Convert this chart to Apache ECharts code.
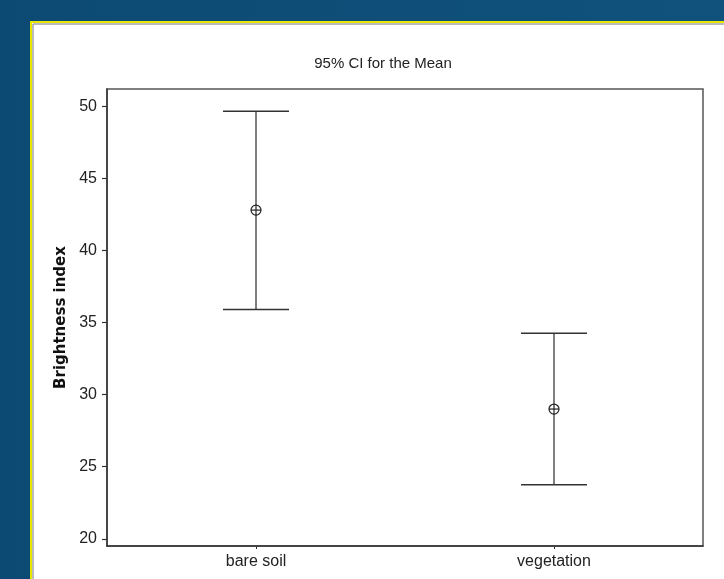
<!DOCTYPE html>
<html>
<head>
<meta charset="utf-8">
<script src="https://cdn.jsdelivr.net/npm/echarts@6/dist/echarts.min.js"></script>
<style>
html,body{margin:0;padding:0;background:#0e4f79;}
#c{width:724px;height:579px;}
</style>
</head>
<body>
<div id="c"></div>
<script>
var categories = ['bare soil', 'vegetation'];
var means = [42.8, 29.0];
var lowerCI = [35.9, 23.75];
var upperCI = [49.65, 34.25];
var yTicks = [20, 25, 30, 35, 40, 45, 50];

var chart = echarts.init(document.getElementById('c'));
var ciData = categories.map(function (c, i) { return [i, lowerCI[i], upperCI[i], means[i]]; });
var tickFont = 'Liberation Sans, Arial, sans-serif';

chart.setOption({
  backgroundColor: {
    type: 'linear', x: 0, y: 0, x2: 1, y2: 0,
    colorStops: [{offset: 0, color: '#0c4a73'}, {offset: 1, color: '#10527c'}]
  },
  animation: false,
  graphic: [
    {type: 'rect', z: -10, shape: {x: 31, y: 22, width: 720, height: 600},
     style: {fill: '#ffffff', stroke: '#e6e600', lineWidth: 2}},
    {type: 'polyline', z: -9, shape: {points: [[33, 600], [33, 24], [730, 24]]},
     style: {stroke: '#777', lineWidth: 1, fill: null}},
    {type: 'text', x: 383, y: 56, style: {text: '95% CI for the Mean', textAlign: 'center',
      font: '15px ' + tickFont, fill: '#222'}}
  ],
  grid: {left: 107, top: 89, right: 21, bottom: 33, show: true, borderColor: '#555', borderWidth: 1.5, backgroundColor: '#fff'},
  xAxis: {
    type: 'category', data: categories, boundaryGap: true,
    axisLine: {lineStyle: {color: '#333', width: 1.5}},
    axisTick: {show: true, alignWithLabel: true, length: 3, lineStyle: {color: '#333'}},
    axisLabel: {color: '#222', fontSize: 16, fontFamily: tickFont, margin: 8},
    splitLine: {show: false}
  },
  yAxis: {
    type: 'value', min: 19.5, max: 51.2,
    name: 'Brightness index', nameLocation: 'middle', nameGap: 38,
    nameTextStyle: {fontFamily: 'DejaVu Sans', fontWeight: 'bold', fontSize: 15, color: '#111'},
    axisLine: {show: true, lineStyle: {color: '#333', width: 1.5}},
    axisTick: {show: true, length: 5, customValues: yTicks, lineStyle: {color: '#333', width: 1.2}},
    axisLabel: {color: '#222', fontSize: 16, fontFamily: tickFont, margin: 10, customValues: yTicks},
    splitLine: {show: false}
  },
  series: [{
    type: 'custom',
    data: ciData,
    encode: {x: 0, y: [1, 2, 3]},
    renderItem: function (params, api) {
      var x = api.value(0);
      var lo = api.coord([x, api.value(1)]);
      var hi = api.coord([x, api.value(2)]);
      var m = api.coord([x, api.value(3)]);
      var hw = 33;
      var ls = {stroke: '#333', lineWidth: 1.5};
      return {
        type: 'group',
        children: [
          {type: 'line', shape: {x1: hi[0], y1: hi[1], x2: lo[0], y2: lo[1]}, style: {stroke: '#555', lineWidth: 1.5}},
          {type: 'line', shape: {x1: hi[0] - hw, y1: hi[1], x2: hi[0] + hw, y2: hi[1]}, style: ls},
          {type: 'line', shape: {x1: lo[0] - hw, y1: lo[1], x2: lo[0] + hw, y2: lo[1]}, style: ls},
          {type: 'circle', shape: {cx: m[0], cy: m[1], r: 5}, style: {fill: '#fff', stroke: '#222', lineWidth: 1.2}},
          {type: 'line', shape: {x1: m[0] - 5, y1: m[1], x2: m[0] + 5, y2: m[1]}, style: {stroke: '#222', lineWidth: 1.2}},
          {type: 'line', shape: {x1: m[0], y1: m[1] - 5, x2: m[0], y2: m[1] + 5}, style: {stroke: '#222', lineWidth: 1.2}}
        ]
      };
    }
  }]
});
</script>
</body>
</html>
